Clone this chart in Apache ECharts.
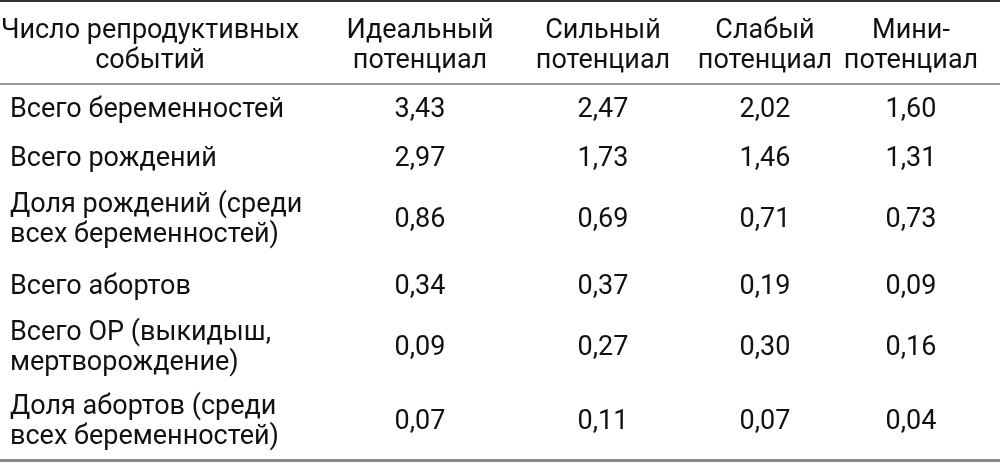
<!DOCTYPE html><html><head><meta charset="utf-8"><script src="https://cdn.jsdelivr.net/npm/echarts@6/dist/echarts.min.js"></script>
<style>html,body{margin:0;background:#fff}#c{width:1000px;height:464px}</style></head><body><div id="c"></div><script>
const headers = ["Число репродуктивных\nсобытий","Идеальный\nпотенциал","Сильный\nпотенциал","Слабый\nпотенциал","Мини-\nпотенциал"];
const rowLabels = ["Всего беременностей","Всего рождений","Доля рождений (среди\nвсех беременностей)","Всего абортов","Всего ОР (выкидыш,\nмертворождение)","Доля абортов (среди\nвсех беременностей)"];
const ideal = ["3,43","2,97","0,86","0,34","0,09","0,07"];
const strong = ["2,47","1,73","0,69","0,37","0,27","0,11"];
const weak = ["2,02","1,46","0,71","0,19","0,30","0,07"];
const mini = ["1,60","1,31","0,73","0,09","0,16","0,04"];
// layout
const colX = [10, 420, 603, 765, 911];
const headerY = 46;
const rowY = [110, 159, 220, 287, 348, 422];
const cells = [];
headers.forEach((h,i)=>cells.push([colX[i], headerY, h, i===0?'hdr0':'hdr']));
const cols=[ideal,strong,weak,mini];
rowLabels.forEach((r,j)=>{
  cells.push([colX[0], rowY[j], r, 'lab']);
  cols.forEach((c,i)=>cells.push([colX[i+1], rowY[j], c[j], 'val']));
});
const chart = echarts.init(document.getElementById('c'));
chart.setOption({
  animation:false,
  grid:{left:0,right:0,top:0,bottom:0},
  xAxis:{type:'value',min:0,max:1000,show:false},
  yAxis:{type:'value',min:0,max:464,inverse:true,show:false},
  series:[{type:'custom',data:cells,renderItem:(p,api)=>{
    const d=cells[p.dataIndex];
    const pt=api.coord([d[0],d[1]]);
    const align = (d[3]==='lab')?'left':'center';
    return {type:'text',x:d[3]==='hdr0'?pt[0]+140:pt[0],y:pt[1],style:{text:d[2],fontFamily:'Roboto',fontSize:27,fill:'#111',align:align,verticalAlign:'middle',lineHeight:30}};
  }}],
  graphic:[
    {type:'rect',shape:{x:0,y:0,width:1000,height:2},style:{fill:'#333'}},
    {type:'rect',shape:{x:0,y:83,width:1000,height:2},style:{fill:'#999'}},
    {type:'rect',shape:{x:0,y:459,width:1000,height:3},style:{fill:'#888'}}
  ]
});
</script></body></html>
